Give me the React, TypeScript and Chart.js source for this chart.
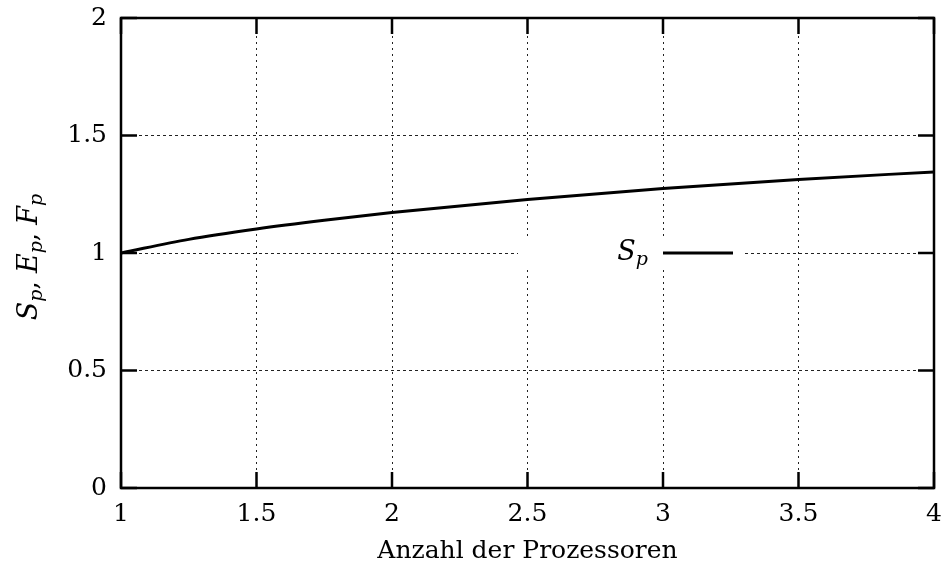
import React, { useEffect, useRef } from "react";
import { Chart, registerables } from "chart.js";

Chart.register(...registerables);

const processors = [1, 1.25, 1.5, 1.75, 2, 2.5, 3, 3.5, 4];
const speedup = [1, 1.058, 1.102, 1.139, 1.172, 1.228, 1.274, 1.313, 1.345];
const xTicks = [1, 1.5, 2, 2.5, 3, 3.5, 4];
const yTicks = [0, 0.5, 1, 1.5, 2];
const xTickLabels = ["1", "1.5", "2", "2.5", "3", "3.5", "4"];
const yTickLabels = ["0", "0.5", "1", "1.5", "2"];
const xTitle = "Anzahl der Prozessoren";
const legendLabel = { main: "S", sub: "p" };
const yTitleParts = [
  { main: "S", sub: "p", sep: ", " },
  { main: "E", sub: "p", sep: ", " },
  { main: "F", sub: "p", sep: "" },
];

const FAMILY = "'DejaVu Serif', 'Liberation Serif', serif";
const SIZE = 25;

type Seg = { t: string; font: string; dy: number };

function richWidth(ctx: CanvasRenderingContext2D, segs: Seg[]) {
  let w = 0;
  for (const s of segs) {
    ctx.font = s.font;
    w += ctx.measureText(s.t).width;
  }
  return w;
}

function drawRich(ctx: CanvasRenderingContext2D, segs: Seg[], x: number, y: number) {
  let cx = x;
  ctx.textBaseline = "alphabetic";
  ctx.textAlign = "left";
  for (const s of segs) {
    ctx.font = s.font;
    ctx.fillText(s.t, cx, y + s.dy);
    cx += ctx.measureText(s.t).width;
  }
}

const it = `italic 27px ${FAMILY}`;
const itSub = `italic 19px ${FAMILY}`;
const rm = `26px ${FAMILY}`;

const framePlugin = {
  id: "framePlugin",
  afterDatasetsDraw(chart: any) {
    const { ctx, chartArea } = chart;
    const { right, top, bottom } = chartArea;
    const ly = top + (bottom - top) * 0.5;
    ctx.save();
    ctx.fillStyle = "#fff";
    ctx.fillRect(right - 416, ly - 13, 225, 26);
    ctx.strokeStyle = "#000";
    ctx.lineWidth = 3;
    ctx.beginPath();
    ctx.moveTo(right - 271, ly);
    ctx.lineTo(right - 201, ly);
    ctx.stroke();
    ctx.fillStyle = "#000";
    const segs: Seg[] = [
      { t: legendLabel.main, font: it, dy: 0 },
      { t: legendLabel.sub, font: itSub, dy: 5 },
    ];
    const w = richWidth(ctx, segs);
    drawRich(ctx, segs, right - 286 - w, ly + 7);
    ctx.restore();
  },
  afterDraw(chart: any) {
    const { ctx, chartArea, scales } = chart;
    const { left, right, top, bottom } = chartArea;
    ctx.save();
    ctx.strokeStyle = "#000";
    ctx.lineWidth = 2.5;
    const L = 16;
    ctx.beginPath();
    for (const v of xTicks) {
      const px = scales.x.getPixelForValue(v);
      ctx.moveTo(px, bottom);
      ctx.lineTo(px, bottom - L);
      ctx.moveTo(px, top);
      ctx.lineTo(px, top + L);
    }
    for (const v of yTicks) {
      const py = scales.y.getPixelForValue(v);
      ctx.moveTo(left, py);
      ctx.lineTo(left + L, py);
      ctx.moveTo(right, py);
      ctx.lineTo(right - L, py);
    }
    ctx.stroke();
    ctx.strokeRect(left, top, right - left, bottom - top);

    const segs: Seg[] = [];
    for (const p of yTitleParts) {
      segs.push({ t: p.main, font: it, dy: 0 });
      segs.push({ t: p.sub, font: itSub, dy: 5 });
      if (p.sep) segs.push({ t: p.sep, font: rm, dy: 0 });
    }
    const w = richWidth(ctx, segs);
    ctx.fillStyle = "#000";
    ctx.translate(37, (top + bottom) / 2 + 4);
    ctx.rotate(-Math.PI / 2);
    drawRich(ctx, segs, -w / 2, 0);
    ctx.restore();
  },
};

export default function App() {
  const ref = useRef<HTMLCanvasElement | null>(null);
  useEffect(() => {
    document.body.style.margin = "0";
    const canvas = ref.current!;
    const chart = new Chart(canvas, {
      type: "line",
      data: {
        datasets: [
          {
            label: "S_p",
            data: processors.map((x, i) => ({ x, y: speedup[i] })),
            borderColor: "#000",
            borderWidth: 3,
            pointRadius: 0,
            cubicInterpolationMode: "monotone",
            fill: false,
          },
        ],
      },
      options: {
        responsive: false,
        animation: false,
        layout: { padding: { top: 18, right: 9, bottom: 0, left: 0 } },
        plugins: { legend: { display: false }, tooltip: { enabled: false } },
        scales: {
          x: {
            type: "linear",
            min: 1,
            max: 4,
            afterBuildTicks: (s: any) => {
              s.ticks = xTicks.map((v) => ({ value: v }));
            },
            afterFit: (s: any) => {
              s.height = 82;
              s.paddingLeft = 0;
              s.paddingRight = 0;
            },
            ticks: {
              padding: 11,
              color: "#000",
              font: { family: FAMILY, size: SIZE },
              maxRotation: 0,
              autoSkip: false,
              callback: (v: any) => {
                const i = xTicks.indexOf(Number(v));
                return i >= 0 ? xTickLabels[i] : "";
              },
            },
            grid: { color: "#222", lineWidth: 1, drawTicks: false },
            border: { display: false, dash: [2, 4] },
            title: {
              display: true,
              text: xTitle,
              color: "#000",
              font: { family: FAMILY, size: SIZE },
              padding: { top: 0, bottom: 4 },
            },
          },
          y: {
            type: "linear",
            min: 0,
            max: 2,
            afterBuildTicks: (s: any) => {
              s.ticks = yTicks.map((v) => ({ value: v }));
            },
            afterFit: (s: any) => {
              s.width = 121;
              s.paddingTop = 0;
              s.paddingBottom = 0;
            },
            ticks: {
              padding: 14,
              color: "#000",
              font: { family: FAMILY, size: SIZE },
              autoSkip: false,
              callback: (v: any) => {
                const i = yTicks.indexOf(Number(v));
                return i >= 0 ? yTickLabels[i] : "";
              },
            },
            grid: { color: "#222", lineWidth: 1, drawTicks: false },
            border: { display: false, dash: [3, 3] },
          },
        },
      },
      plugins: [framePlugin],
    });
    return () => chart.destroy();
  }, []);
  return <canvas ref={ref} width={943} height={570} style={{ display: "block" }} />;
}
